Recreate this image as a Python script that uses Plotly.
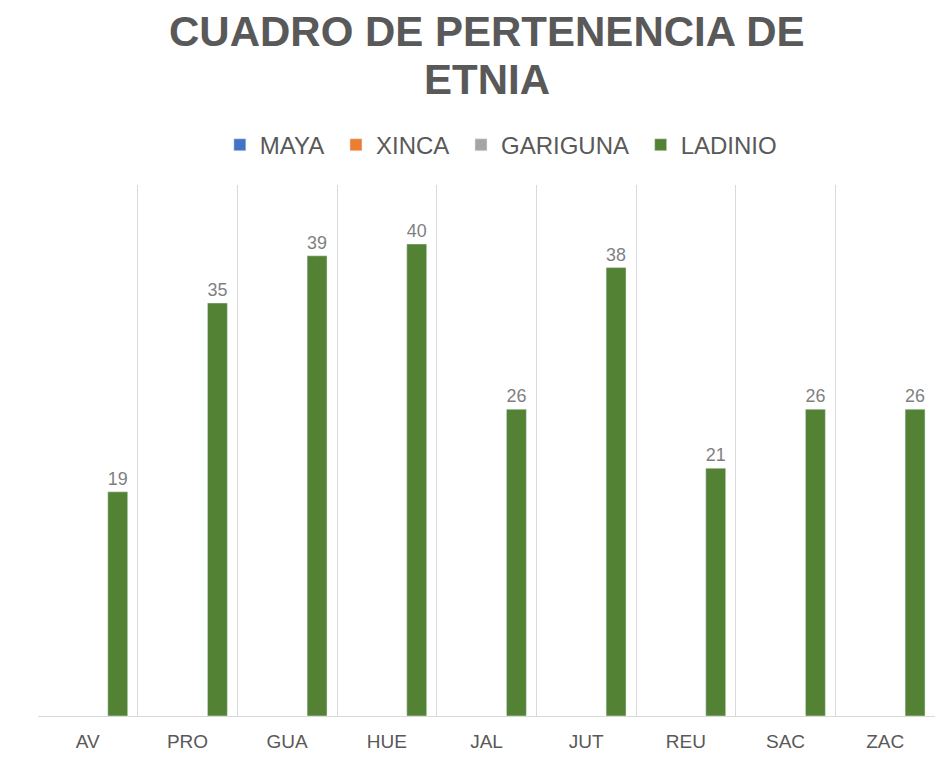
import plotly.graph_objects as go

# Departamentos y valores por etnia
categorias = ["AV", "PRO", "GUA", "HUE", "JAL", "JUT", "REU", "SAC", "ZAC"]
maya = [None] * 9
xinca = [None] * 9
gariguna = [None] * 9
ladinio = [19, 35, 39, 40, 26, 38, 21, 26, 26]

series = [
    ("MAYA\u00a0", maya, "#4472C4"),
    ("XINCA\u00a0", xinca, "#ED7D31"),
    ("GARIGUNA\u00a0", gariguna, "#A5A5A5"),
    ("LADINIO", ladinio, "#548235"),
]

fig = go.Figure()
for nombre, valores, color in series:
    fig.add_trace(go.Bar(
        x=categorias, y=valores, name=nombre,
        marker_color=color,
        text=valores, textposition="outside",
        textfont=dict(size=18, color="#7F7F7F"),
        cliponaxis=False,
    ))

# titulo en dos lineas
titulo = ["CUADRO DE PERTENENCIA DE", "ETNIA"]
for linea, ypos in zip(titulo, [1.290, 1.198]):
    fig.add_annotation(
        text="<b>" + linea + "</b>",
        xref="paper", yref="paper", x=0.5, y=ypos,
        xanchor="center", yanchor="middle", showarrow=False,
        font=dict(size=42, color="#595959", family="Liberation Sans, Arial"),
    )

fig.update_layout(
    barmode="group", bargap=0.2, bargroupgap=0,
    width=935, height=758,
    margin=dict(l=30, r=8, t=177, b=50),
    plot_bgcolor="white", paper_bgcolor="white",
    font=dict(family="Liberation Sans, Arial", color="#595959"),
    legend=dict(
        orientation="h", x=0.516, xanchor="center", y=1.075, yanchor="middle",
        font=dict(size=24, color="#595959"),
        itemwidth=30, traceorder="normal",
    ),
    showlegend=True,
)

fig.update_xaxes(
    type="category", tickson="boundaries", showgrid=True,
    gridcolor="#D9D9D9", gridwidth=1,
    showline=True, linecolor="#D9D9D9", ticks="",
    tickfont=dict(size=19, color="#595959"),
    ticklabelstandoff=8,
)
fig.update_yaxes(
    range=[0, 45], showgrid=False, showticklabels=False,
    zeroline=False, showline=False,
)

fig.write_html("out.html")
